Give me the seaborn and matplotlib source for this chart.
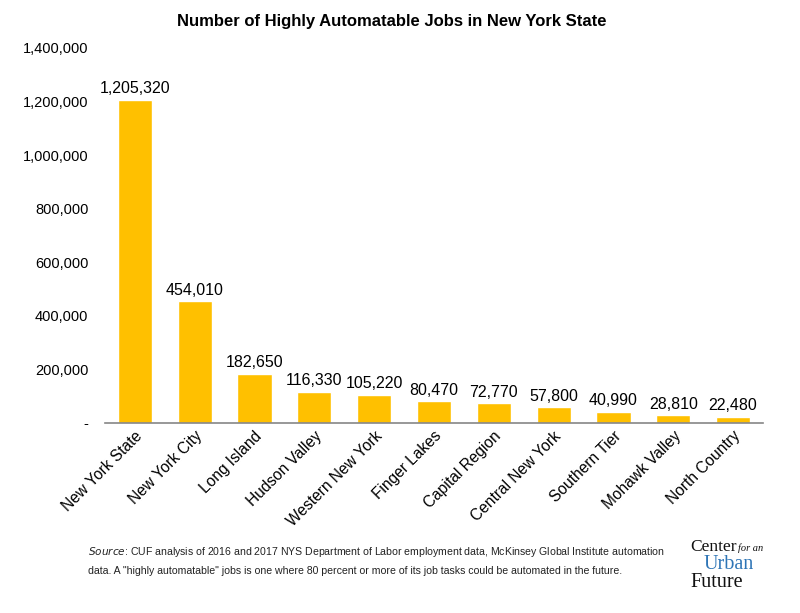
import matplotlib
matplotlib.use("Agg")
import matplotlib.pyplot as plt
import matplotlib.ticker as mticker
import pandas as pd
import seaborn as sns

regions = ["New York State", "New York City", "Long Island", "Hudson Valley",
           "Western New York", "Finger Lakes", "Capital Region", "Central New York",
           "Southern Tier", "Mohawk Valley", "North Country"]
jobs = [1205320, 454010, 182650, 116330, 105220, 80470, 72770, 57800,
        40990, 28810, 22480]
y_ticks = [0, 200000, 400000, 600000, 800000, 1000000, 1200000, 1400000]

df = pd.DataFrame({"region": regions, "jobs": jobs})

sns.set_theme(style="white")
plt.rcParams["font.family"] = ["Liberation Sans", "DejaVu Sans"]
plt.rcParams["text.color"] = "#000000"

fig = plt.figure(figsize=(8, 6.13), dpi=100)
ax = fig.add_axes([0.13125, 0.31, 0.8225, 0.6117])

sns.barplot(data=df, x="region", y="jobs", color="#FFC000", saturation=1,
            width=0.57, ax=ax)

# value labels above bars
for i, v in enumerate(jobs):
    ax.text(i, v + 14000, f"{v:,}", ha="center", va="bottom", fontsize=11.5,
            color="#000000")

ax.set_ylim(0, 1400000)
ax.set_xlim(-0.5, len(regions) - 0.5)
ax.set_yticks(y_ticks)
ax.yaxis.set_major_formatter(mticker.FuncFormatter(
    lambda v, p: "-" if v == 0 else f"{int(v):,}"))
ax.tick_params(axis="y", length=0, labelsize=10.5, pad=12, colors="#000000")
ax.tick_params(axis="x", length=0, labelsize=11.2, pad=4, colors="#000000")
plt.setp(ax.get_xticklabels(), rotation=45, ha="right", rotation_mode="anchor")
ax.set_xlabel("")
ax.set_ylabel("")
for s in ["left", "right", "top"]:
    ax.spines[s].set_visible(False)
ax.spines["bottom"].set_color("#868686")
ax.spines["bottom"].set_linewidth(1.2)

fig.text(0.49, 0.965, "Number of Highly Automatable Jobs in New York State",
         ha="center", va="center", fontsize=12, fontweight="bold", color="#000000")

fig.text(0.11, 0.099,
         "$\\it{Source}$: CUF analysis of 2016 and 2017 NYS Department of Labor employment data, "
         "McKinsey Global Institute automation",
         fontsize=7.6, va="center", color="#222222")
fig.text(0.11, 0.069,
         "data. A \"highly automatable\" jobs is one where 80 percent or more of its job tasks "
         "could be automated in the future.",
         fontsize=7.6, va="center", color="#222222")

# logo as text
serif = ["Liberation Serif", "DejaVu Serif"]
fig.text(0.8625, 0.1015, "Center", fontsize=12.5, family=serif, va="baseline", color="#111111")
fig.text(0.923, 0.1015, "for an", fontsize=7.5, family=serif, style="italic",
         va="baseline", color="#111111")
fig.text(0.879, 0.071, "Urban", fontsize=14.5, family=serif, va="baseline", color="#2E75B6")
fig.text(0.8625, 0.042, "Future", fontsize=14.5, family=serif, va="baseline", color="#111111")

fig.savefig("out.png", dpi=100)
